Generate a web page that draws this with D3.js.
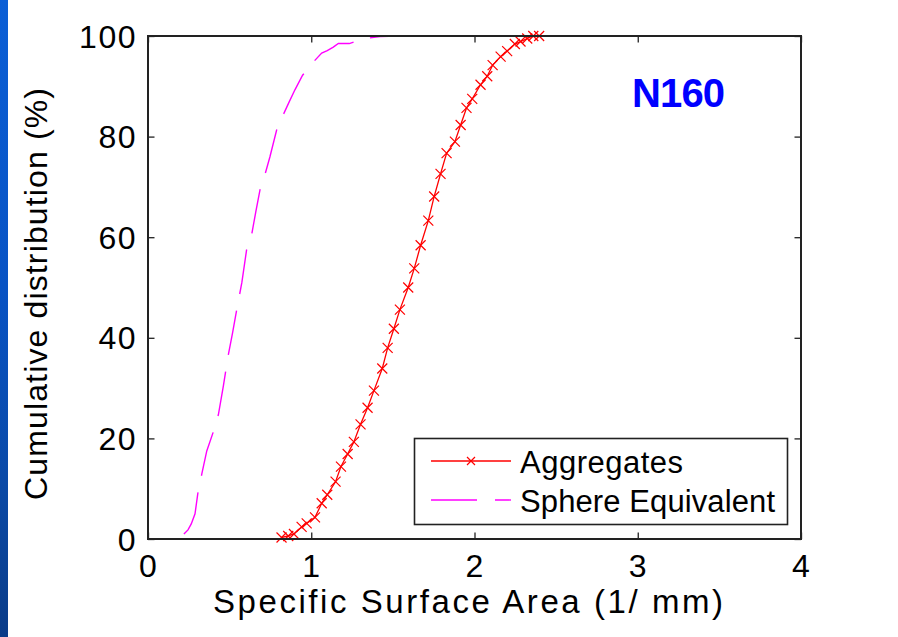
<!DOCTYPE html>
<html>
<head>
<meta charset="utf-8">
<script src="https://cdn.jsdelivr.net/npm/d3@7"></script>
<style>
  html, body { margin: 0; padding: 0; background: #ffffff; }
  svg { display: block; }
  text { font-family: "Liberation Sans", Arial, Helvetica, sans-serif; fill: #000; }
</style>
</head>
<body>
<svg id="chart" width="898" height="637"></svg>
<script>
// ---- data ----
const xTicks = [0, 1, 2, 3, 4];
const yTicks = [0, 20, 40, 60, 80, 100];

const aggX = [0.818, 0.859, 0.894, 0.941, 0.972, 1.023, 1.064, 1.098, 1.149, 1.182,
              1.223, 1.261, 1.302, 1.345, 1.384, 1.435, 1.468, 1.506, 1.543, 1.594,
              1.631, 1.670, 1.717, 1.753, 1.792, 1.829, 1.880, 1.915, 1.951, 1.986,
              2.037, 2.078, 2.111, 2.160, 2.200, 2.247, 2.282, 2.323, 2.360, 2.396];
const aggY = [0.3, 0.6, 1.0, 2.4, 3.1, 4.3, 7.1, 8.8, 11.4, 14.4,
              16.9, 19.3, 22.8, 26.1, 29.5, 33.9, 38.0, 41.8, 45.6, 50.0,
              53.8, 58.4, 63.3, 68.1, 72.6, 76.7, 79.0, 82.3, 85.7, 87.5,
              90.3, 92.0, 94.2, 95.9, 97.0, 98.4, 98.9, 99.5, 100, 100];

const sphX = [0.220, 0.245, 0.265, 0.288, 0.305, 0.330, 0.360, 0.400, 0.431, 0.462,
              0.492, 0.518, 0.543, 0.575, 0.604, 0.635, 0.660, 0.686, 0.716, 0.747,
              0.788, 0.825, 0.862, 0.900, 0.947, 1.006, 1.064, 1.098, 1.135, 1.166,
              1.233, 1.329, 1.421, 1.533];
const sphY = [1.0, 1.8, 3.0, 5.0, 9.0, 13.0, 17.5, 21.3, 24.7, 30.5,
              36.6, 41.0, 45.5, 51.0, 57.5, 60.5, 65.0, 69.4, 72.4, 76.0,
              81.3, 84.1, 86.7, 89.3, 92.2, 94.6, 96.6, 97.1, 97.8, 98.5,
              98.5, 99.5, 99.9, 100];

const seriesNames = ["Aggregates", "Sphere Equivalent"];
const xLabel = "Specific Surface Area (1/ mm)";
const yLabel = "Cumulative distribution (%)";
const tag = "N160";

// ---- layout ----
const svg = d3.select("#chart");
const L = 148, R = 801, T = 36, B = 539;
const x = d3.scaleLinear().domain([0, 4]).range([L, R]);
const y = d3.scaleLinear().domain([0, 100]).range([B, T]);

// blue slide strip on the left
const defs = svg.append("defs");
const g1 = defs.append("linearGradient").attr("id", "strip")
  .attr("x1", 0).attr("y1", 0).attr("x2", 0).attr("y2", 1);
g1.append("stop").attr("offset", "0%").attr("stop-color", "#0b5fd6");
g1.append("stop").attr("offset", "45%").attr("stop-color", "#0853c4");
g1.append("stop").attr("offset", "75%").attr("stop-color", "#0a4aa8");
g1.append("stop").attr("offset", "100%").attr("stop-color", "#0a3c88");
svg.append("rect").attr("x", 0).attr("y", 0).attr("width", 8).attr("height", 637)
  .attr("fill", "url(#strip)");

// plot box background
svg.append("rect").attr("x", L).attr("y", T).attr("width", R - L).attr("height", B - T)
  .attr("fill", "#fff");

// axes (inward ticks)
const tick = 6.5;
const axB = svg.append("g").attr("transform", `translate(0,${B})`)
  .call(d3.axisBottom(x).tickValues(xTicks).tickSize(-tick).tickPadding(0).tickFormat(""));
const axT = svg.append("g").attr("transform", `translate(0,${T})`)
  .call(d3.axisTop(x).tickValues(xTicks).tickSize(-tick).tickFormat(""));
const axL = svg.append("g").attr("transform", `translate(${L},0)`)
  .call(d3.axisLeft(y).tickValues(yTicks).tickSize(-tick).tickFormat(""));
const axR = svg.append("g").attr("transform", `translate(${R},0)`)
  .call(d3.axisRight(y).tickValues(yTicks).tickSize(-tick).tickFormat(""));
[axB, axT, axL, axR].forEach(a => {
  a.select(".domain").remove();
  a.selectAll(".tick line").attr("stroke", "#222").attr("stroke-width", 1.3);
});

// tick labels
svg.append("g").selectAll("text").data(xTicks).join("text")
  .attr("x", d => x(d)).attr("y", 577)
  .attr("text-anchor", "middle").attr("font-size", 32)
  .text(d => d);
svg.append("g").selectAll("text").data(yTicks).join("text")
  .attr("x", 137).attr("y", d => y(d) + 11.5)
  .attr("text-anchor", "end").attr("font-size", 32)
  .attr("letter-spacing", 1.5)
  .text(d => d);

// axis labels
svg.append("text").attr("x", 468).attr("y", 613)
  .attr("text-anchor", "middle").attr("font-size", 33)
  .attr("textLength", 510).attr("lengthAdjust", "spacing")
  .text(xLabel);
svg.append("text").attr("transform", "translate(47,294) rotate(-90)")
  .attr("text-anchor", "middle").attr("font-size", 32)
  .attr("textLength", 412).attr("lengthAdjust", "spacing")
  .text(yLabel);

// series
const agg = aggX.map((v, i) => [v, aggY[i]]);
const sph = sphX.map((v, i) => [v, sphY[i]]);
const line = d3.line().x(d => x(d[0])).y(d => y(d[1]));

svg.append("path").datum(sph).attr("d", line)
  .attr("fill", "none").attr("stroke", "#ff00ff").attr("stroke-width", 1.4)
  .attr("stroke-dasharray", "45,17");

svg.append("path").datum(agg).attr("d", line)
  .attr("fill", "none").attr("stroke", "#ff0000").attr("stroke-width", 1.3);

const ms = 5;
const cross = d => `M${x(d[0]) - ms},${y(d[1]) - ms}L${x(d[0]) + ms},${y(d[1]) + ms}M${x(d[0]) - ms},${y(d[1]) + ms}L${x(d[0]) + ms},${y(d[1]) - ms}`;
svg.append("g").selectAll("path").data(agg).join("path")
  .attr("d", cross).attr("stroke", "#ff0000").attr("stroke-width", 1.2).attr("fill", "none");

// box frame
svg.append("rect").attr("x", L).attr("y", T).attr("width", R - L).attr("height", B - T)
  .attr("fill", "none").attr("stroke", "#222").attr("stroke-width", 2);

// tag
svg.append("text").attr("x", 632).attr("y", 107)
  .attr("font-size", 40).attr("font-weight", "bold").attr("fill", "#0000ff")
  .style("fill", "#0000ff")
  .attr("textLength", 93).attr("lengthAdjust", "spacing")
  .text(tag);

// legend
const lg = svg.append("g");
lg.append("rect").attr("x", 414.5).attr("y", 438.5).attr("width", 373).attr("height", 86)
  .attr("fill", "#fff").attr("stroke", "#222").attr("stroke-width", 1.6);
lg.append("line").attr("x1", 431).attr("x2", 511).attr("y1", 461).attr("y2", 461)
  .attr("stroke", "#ff0000").attr("stroke-width", 1.3);
lg.append("path").attr("d", `M${471 - 4},${461 - 4}L${471 + 4},${461 + 4}M${471 - 4},${461 + 4}L${471 + 4},${461 - 4}`)
  .attr("stroke", "#ff0000").attr("stroke-width", 1.2);
lg.append("line").attr("x1", 431).attr("x2", 511).attr("y1", 500).attr("y2", 500)
  .attr("stroke", "#ff00ff").attr("stroke-width", 1.4).attr("stroke-dasharray", "46,18");
lg.append("text").attr("x", 520).attr("y", 472.5).attr("font-size", 31)
  .attr("textLength", 163).attr("lengthAdjust", "spacing").text(seriesNames[0]);
lg.append("text").attr("x", 520).attr("y", 511.5).attr("font-size", 31)
  .attr("textLength", 255).attr("lengthAdjust", "spacing").text(seriesNames[1]);
</script>
</body>
</html>
